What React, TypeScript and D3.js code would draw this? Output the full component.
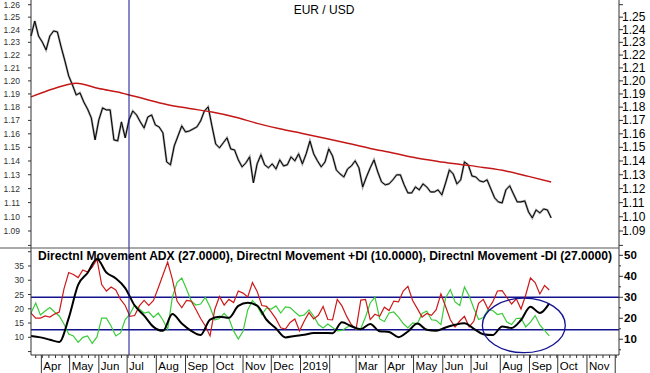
import * as d3 from "d3";

// EUR/USD daily with 200-day average, plus Directional Movement panel
const start = new Date(Date.UTC(2018, 2, 21));
const end = new Date(Date.UTC(2019, 11, 5));

// closes read every 4 days from start
const priceClose = [
  1.2350, 1.2469, 1.2350, 1.2302, 1.2240, 1.2350, 1.2390, 1.2382, 1.2263, 1.2154,
  1.2038, 1.1969, 1.1892, 1.1908, 1.1839, 1.1786, 1.1719, 1.1555, 1.1704, 1.1794,
  1.1779, 1.1779, 1.1555, 1.1548, 1.1689, 1.1570, 1.1704, 1.1771, 1.1741, 1.1689,
  1.1644, 1.1726, 1.1741, 1.1666, 1.1651, 1.1607, 1.1393, 1.1372, 1.1510, 1.1584,
  1.1659, 1.1614, 1.1621, 1.1636, 1.1651, 1.1696, 1.1771, 1.1802, 1.1659, 1.1525,
  1.1496, 1.1533, 1.1570, 1.1488, 1.1481, 1.1408, 1.1357, 1.1386, 1.1430, 1.1241,
  1.1379, 1.1445, 1.1372, 1.1350, 1.1379, 1.1342, 1.1408, 1.1364, 1.1372, 1.1430,
  1.1401, 1.1452, 1.1379, 1.1452, 1.1547, 1.1452, 1.1401, 1.1357, 1.1393, 1.1488,
  1.1437, 1.1335, 1.1306, 1.1284, 1.1342, 1.1364, 1.1401, 1.1350, 1.1212, 1.1284,
  1.1350, 1.1408, 1.1320, 1.1248, 1.1227, 1.1234, 1.1263, 1.1299, 1.1299, 1.1227,
  1.1169, 1.1169, 1.1212, 1.1191, 1.1234, 1.1212, 1.1176, 1.1176, 1.1191, 1.1155,
  1.1241, 1.1335, 1.1306, 1.1234, 1.1263, 1.1393, 1.1372, 1.1291, 1.1284, 1.1256,
  1.1248, 1.1263, 1.1198, 1.1134, 1.1105, 1.1098, 1.1191, 1.1220, 1.1162, 1.1105,
  1.1105, 1.1112, 1.1034, 1.0992, 1.1048, 1.1027, 1.1055, 1.1048, 1.0992,
];

// moving average every 24 days
const movingAvg = [
  1.1878, 1.1940, 1.1982, 1.1941, 1.1908, 1.1863, 1.1820, 1.1790, 1.1763, 1.1726,
  1.1678, 1.1637, 1.1603, 1.1567, 1.1530, 1.1492, 1.1459, 1.1423, 1.1397, 1.1375,
  1.1353, 1.1327, 1.1288, 1.1248,
];

// ADX every 10 days
const adx = [
  11.6, 10.9, 9.8, 8.7, 20.1, 35.9, 41.6, 48.2, 41.8, 39.0, 34.4, 26.1, 21.3, 15.9,
  14.0, 22.0, 17.5, 14.0, 12.0, 19.4, 20.7, 20.2, 25.9, 27.4, 26.0, 19.3, 15.1, 10.9,
  11.6, 12.1, 13.0, 13.0, 12.9, 18.1, 16.2, 14.8, 17.3, 13.8, 13.5, 11.0, 13.7, 17.5,
  14.5, 14.0, 15.6, 16.9, 17.6, 15.0, 12.4, 12.0, 16.1, 15.4, 19.2, 25.5, 22.5, 27.1,
];

// +DI / -DI every 5 days
const plusDI = [
  22.5, 27.3, 21.6, 23.5, 25.1, 23.0, 21.1, 17.3, 12.5, 11.6,
  8.5, 10.9, 11.6, 8.0, 11.1, 20.1, 20.1, 16.3, 11.6, 13.0,
  19.4, 22.0, 26.3, 24.4, 22.5, 23.0, 20.4, 22.5, 19.2, 14.7,
  30.1, 37.0, 39.2, 34.0, 28.2, 26.3, 26.8, 29.9, 25.4, 19.2,
  19.9, 22.3, 19.9, 14.0, 10.1, 13.8, 24.0, 28.5, 25.9, 21.8,
  24.9, 24.4, 25.9, 22.5, 25.4, 25.1, 23.0, 21.1, 21.6, 24.0,
  21.1, 17.0, 15.4, 17.3, 15.6, 14.0, 14.2, 15.6, 17.0, 14.7,
  15.1, 20.6, 27.3, 30.1, 19.7, 18.5, 22.5, 23.0, 20.6, 17.5,
  15.4, 17.8, 17.3, 22.3, 23.5, 19.3, 19.0, 17.0, 29.7, 33.7,
  27.8, 26.1, 34.9, 30.6, 24.7, 19.4, 20.4, 24.1, 23.7, 21.8,
  22.3, 18.2, 17.0, 19.9, 20.1, 15.9, 18.2, 21.3, 16.8, 14.2,
  11.6,
];
const minusDI = [
  22.5, 20.1, 20.1, 21.1, 20.6, 22.0, 23.0, 34.0, 41.8, 40.9,
  39.4, 43.0, 42.0, 44.4, 48.2, 36.1, 33.0, 34.9, 33.5, 29.0,
  26.1, 20.9, 21.3, 25.9, 28.5, 26.1, 28.5, 34.4, 40.6, 46.8,
  38.7, 28.2, 25.0, 28.5, 28.2, 24.2, 19.9, 16.3, 11.6, 24.2,
  30.4, 26.3, 29.0, 27.5, 33.0, 32.0, 30.2, 37.0, 32.8, 26.1,
  25.7, 22.9, 19.7, 15.5, 14.9, 18.0, 19.7, 14.0, 18.7, 22.7,
  19.7, 21.4, 25.6, 19.4, 19.2, 29.0, 25.9, 20.9, 16.9, 14.9,
  28.7, 29.0, 19.4, 21.9, 21.0, 25.3, 23.7, 28.2, 27.8, 33.0,
  35.2, 28.5, 24.6, 20.6, 22.3, 21.4, 24.1, 31.6, 25.6, 19.3,
  15.9, 18.7, 20.9, 15.9, 18.7, 27.1, 29.0, 24.4, 27.8, 33.0,
  33.2, 29.9, 26.8, 29.3, 24.4, 31.1, 39.2, 37.0, 31.6, 35.6,
  33.5,
];

const priceTicks = [1.08, 1.09, 1.1, 1.11, 1.12, 1.13, 1.14, 1.15, 1.16, 1.17, 1.18, 1.19, 1.2, 1.21, 1.22, 1.23, 1.24, 1.25, 1.26];
const leftDmiTicks = [5, 10, 15, 20, 25, 30, 35, 40];
const rightDmiTicks = [5, 10, 15, 20, 25, 30, 35, 40, 45, 50];
const monthLabels = ["Apr", "May", "Jun", "Jul", "Aug", "Sep", "Oct", "Nov", "Dec", "2019", "", "Mar", "Apr", "May", "Jun", "Jul", "Aug", "Sep", "Oct", "Nov", ""];
const levels = [30, 14.5];
const markerDate = new Date(Date.UTC(2018, 6, 3));
const ellipseCenter = { date: new Date(Date.UTC(2019, 7, 26)), value: 16.6 };
const ellipseHalfDays = 44;
const ellipseHalfValue = 13;

const LEFT = 31, RIGHT = 619, SEP = 248, BOTTOM = 355;
const font = "'Liberation Sans', Arial, Helvetica, sans-serif";
const navy = "#12128f";

const grid = (n: number, step: number) => d3.range(n).map((i) => d3.utcDay.offset(start, i * step));

export default function App() {
  const x = d3.scaleUtc().domain([start, end]).range([LEFT, RIGHT]);
  const yP = d3.scaleLog().domain([1.0782, 1.2638]).range([SEP, 0]);
  const yR = d3.scaleLinear().domain([2.5, 53.5]).range([BOTTOM, SEP]);
  const yL = d3.scaleLinear().domain([3.8, 41.3]).range([BOTTOM, SEP]);

  const path = (vals: number[], step: number, ys: (v: number) => number, curve = d3.curveLinear) => {
    const dates = grid(vals.length, step);
    return d3.line<number>().x((_, i) => x(dates[i])).y((v) => ys(v)).curve(curve)(vals) || "";
  };

  const months = d3.utcMonth.range(new Date(Date.UTC(2018, 3, 1)), new Date(Date.UTC(2019, 11, 2)));
  const weeks = d3.utcMonday.range(start, end);

  const ex = x(ellipseCenter.date);
  const ey = yR(ellipseCenter.value);
  const erx = x(d3.utcDay.offset(ellipseCenter.date, ellipseHalfDays)) - ex;
  const ery = yR(ellipseCenter.value - ellipseHalfValue) - ey;

  return (
    <svg width={650} height={373} style={{ position: "absolute", left: 0, top: 0, background: "#fff" }} fontFamily={font}>
      {/* price panel */}
      <path d={path(priceClose, 4, yP)} fill="none" stroke="#a0a0a0" strokeWidth={2.2} />
      <path d={path(priceClose, 4, yP)} fill="none" stroke="#000" strokeWidth={1} />
      <path d={path(movingAvg, 24, yP, d3.curveMonotoneX)} fill="none" stroke="#c41818" strokeWidth={1.5} />
      <text x={324} y={14} fontSize={12} textAnchor="middle" fill="#000">EUR / USD</text>

      {priceTicks.map((t) => (
        <g key={"p" + t}>
          <line x1={LEFT - 3} x2={LEFT} y1={yP(t)} y2={yP(t)} stroke="#333" />
          <line x1={RIGHT} x2={RIGHT + 4} y1={yP(t)} y2={yP(t)} stroke="#333" />
          {t > 1.085 && (
            <text x={20} y={yP(t) + 3} fontSize={8.5} textAnchor="end" fill="#333">{t.toFixed(2)}</text>
          )}
          {t > 1.085 && t < 1.255 && (
            <text x={622} y={yP(t) + 4} fontSize={12} fill="#000">{t.toFixed(2)}</text>
          )}
        </g>
      ))}

      {/* DMI panel */}
      {levels.map((l) => (
        <line key={"l" + l} x1={LEFT} x2={RIGHT} y1={yR(l)} y2={yR(l)} stroke={navy} strokeWidth={1.5} />
      ))}
      <path d={path(plusDI, 5, yR)} fill="none" stroke="#3acc3a" strokeWidth={1.2} />
      <path d={path(minusDI, 5, yR)} fill="none" stroke="#cc1a1a" strokeWidth={1.2} />
      <path d={path(adx, 10, yR, d3.curveMonotoneX)} fill="none" stroke="#000" strokeWidth={2} />
      <ellipse cx={ex} cy={ey} rx={erx} ry={ery} fill="none" stroke={navy} strokeWidth={1.3} />
      <text x={38} y={260} fontSize={12} fontWeight="bold" fill="#000" textLength={574} lengthAdjust="spacingAndGlyphs">
        Directnl Movement ADX (27.0000), Directnl Movement +DI (10.0000), Directnl Movement -DI (27.0000)
      </text>

      {leftDmiTicks.map((t) => (
        <g key={"ld" + t}>
          <line x1={LEFT - 3} x2={LEFT} y1={yL(t)} y2={yL(t)} stroke="#333" />
          {t >= 10 && t <= 35 && (
            <text x={24} y={yL(t) + 3} fontSize={8.5} textAnchor="end" fill="#333">{t}</text>
          )}
        </g>
      ))}
      {rightDmiTicks.map((t) => (
        <g key={"rd" + t}>
          <line x1={RIGHT} x2={RIGHT + (t % 10 === 0 ? 4 : 2)} y1={yR(t)} y2={yR(t)} stroke="#333" />
          {t % 10 === 0 && (
            <text x={624} y={yR(t) + 4} fontSize={11.5} fontWeight="bold" fill="#000">{t}</text>
          )}
        </g>
      ))}

      {/* time axis */}
      {weeks.map((w) => (
        <line key={"w" + +w} x1={x(w)} x2={x(w)} y1={BOTTOM} y2={BOTTOM + 3} stroke="#333" />
      ))}
      {months.map((m, i) => (
        <g key={"m" + +m}>
          <line x1={x(m)} x2={x(m)} y1={BOTTOM} y2={373} stroke="#333" />
          <text x={x(m) + 2} y={370} fontSize={11.5} fill="#000">{monthLabels[i]}</text>
        </g>
      ))}

      {/* frame */}
      <line x1={x(markerDate)} x2={x(markerDate)} y1={0} y2={BOTTOM} stroke={navy} strokeWidth={1} />
      <line x1={LEFT} x2={LEFT} y1={0} y2={BOTTOM} stroke="#333" />
      <line x1={RIGHT} x2={RIGHT} y1={0} y2={BOTTOM} stroke="#333" />
      <line x1={0} x2={RIGHT} y1={SEP} y2={SEP} stroke="#555" />
      <line x1={LEFT} x2={LEFT} y1={BOTTOM} y2={BOTTOM} stroke="#333" />
      <line x1={LEFT} x2={RIGHT} y1={BOTTOM} y2={BOTTOM} stroke="#333" />
    </svg>
  );
}
